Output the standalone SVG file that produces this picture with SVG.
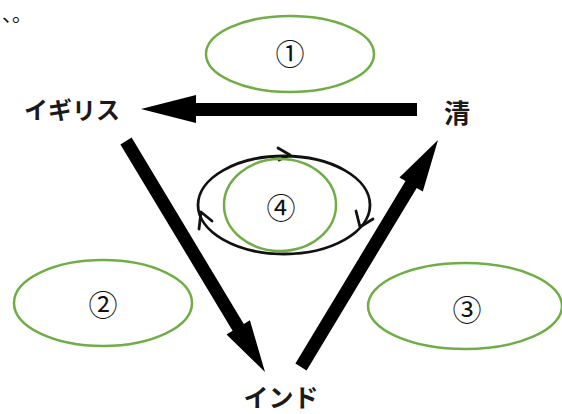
<svg xmlns="http://www.w3.org/2000/svg" width="562" height="414" viewBox="0 0 562 414">
<style>
.lbl{font-family:"Noto Sans CJK JP","Noto Sans",sans-serif;font-weight:bold;fill:#1a1a1a;text-anchor:middle}
.num{font-family:"Noto Sans CJK JP","DejaVu Sans",serif;font-size:29px;fill:#111;text-anchor:middle}
.oval{fill:none;stroke:#70AD47;stroke-width:2.5}
.cyc{fill:none;stroke:#111;stroke-width:2.8;stroke-linecap:round;stroke-linejoin:round}
.arr{fill:#000}
</style>
<rect width="562" height="414" fill="#fff"/>
<text x="2" y="22" font-family="Noto Sans CJK JP,sans-serif" font-size="20" fill="#111">、。</text>
<g id="connectors">
<polygon class="arr" points="417,103 196,103 196,95 141,109 196,123 196,116 417,116"/>
<polygon class="arr" points="131.6,137.6 243.8,324 249.9,320.3 265,372 226.5,334.5 232.6,330.8 120.4,144.4"/>
<polygon class="arr" points="295.4,363.6 405.5,181.1 399.4,177.4 438,140 422.8,191.6 416.7,187.9 306.6,370.4"/>
<g id="cycle">
<ellipse class="cyc" cx="284" cy="205" rx="86" ry="49"/>
<polyline class="cyc" points="278,148 290,155 279,160"/>
<polyline class="cyc" points="356,211 360,227 373,219"/>
<polyline class="cyc" points="199,229 201,212 212,221"/>
</g>
</g>
<g id="igirisu"><text class="lbl" x="72" y="119" font-size="24">イギリス</text></g>
<g id="shin"><text class="lbl" x="457" y="123" font-size="26">清</text></g>
<g id="india"><text class="lbl" x="281" y="407" font-size="25">インド</text></g>
<g id="oval1"><ellipse class="oval" cx="290" cy="54" rx="84" ry="38"/><text class="num" x="290" y="65">①</text></g>
<g id="oval2"><ellipse class="oval" cx="103" cy="303" rx="89" ry="43"/><text class="num" x="103" y="316">②</text></g>
<g id="oval3"><ellipse class="oval" cx="465" cy="306" rx="97" ry="43"/><text class="num" x="467" y="321">③</text></g>
<g id="oval4"><ellipse class="oval" cx="280" cy="205" rx="56" ry="46"/><text class="num" x="281" y="219">④</text></g>
</svg>
